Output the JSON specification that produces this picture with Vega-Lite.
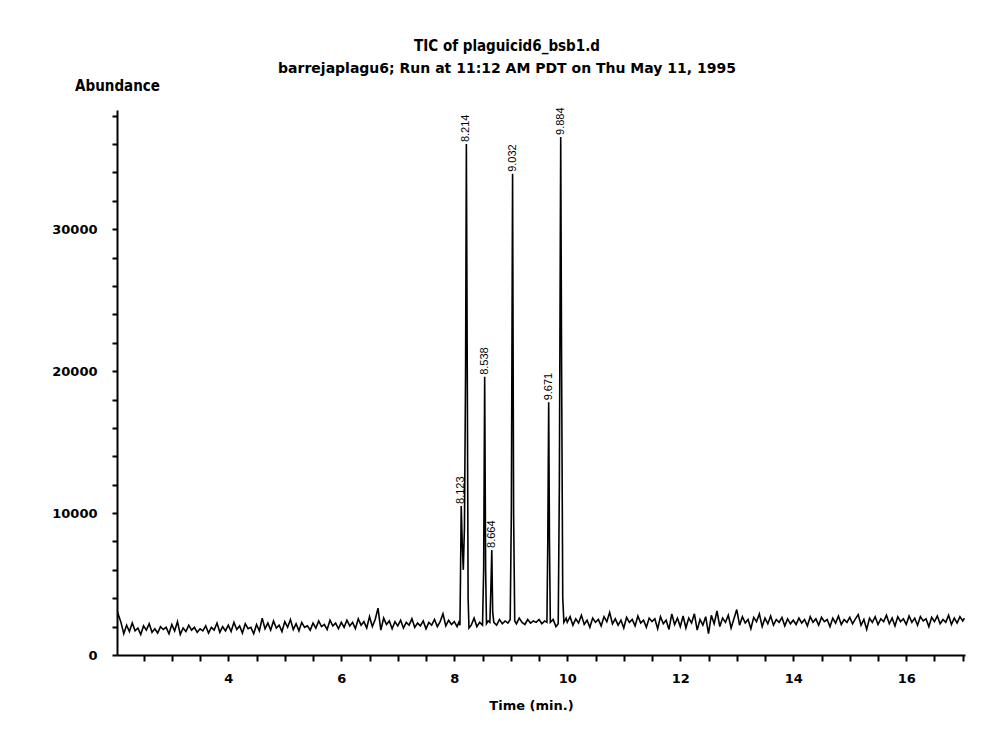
{
"$schema":"https://vega.github.io/schema/vega-lite/v6.json",
"width":848,"height":545,
"autosize":{"type":"none"},
"padding":{"left":117,"top":110,"right":16,"bottom":84},
"background":"white",
"title":{"text":"TIC of plaguicid6_bsb1.d","subtitle":"barrejaplagu6; Run at 11:12 AM PDT on Thu May 11, 1995","anchor":"middle","dx":-34,"offset":2,"font":"Liberation Sans Narrow, DejaVu Sans Condensed, Liberation Sans","fontSize":15,"fontWeight":"bold","color":"black","subtitleFont":"DejaVu Sans","subtitleFontSize":14,"subtitleFontWeight":"bold","subtitleColor":"black","subtitlePadding":8},
"config":{"view":{"stroke":null},"axis":{"labelOverlap":false,"labelFlush":false}},
"datasets":{
"trace":[
{"t":2.03,"a":2500},{"t":2.05,"a":2900},{"t":2.1,"a":2300},{"t":2.15,"a":1500},{"t":2.2,"a":2100},{"t":2.25,"a":1650},{"t":2.3,"a":2250},{"t":2.35,"a":1700},{"t":2.4,"a":1900},{"t":2.45,"a":1450},{"t":2.5,"a":2050},{"t":2.55,"a":1750},{"t":2.6,"a":2200},{"t":2.65,"a":1600},{"t":2.7,"a":1850},{"t":2.75,"a":1550},{"t":2.8,"a":2000},{"t":2.85,"a":1800},{"t":2.9,"a":1950},{"t":2.95,"a":1500},{"t":3.0,"a":2150},{"t":3.05,"a":1700},{"t":3.1,"a":2350},{"t":3.15,"a":1450},{"t":3.2,"a":1900},{"t":3.25,"a":1650},{"t":3.3,"a":2100},{"t":3.35,"a":1750},{"t":3.4,"a":1950},{"t":3.45,"a":1600},{"t":3.5,"a":1850},{"t":3.55,"a":1700},{"t":3.6,"a":2050},{"t":3.65,"a":1550},{"t":3.7,"a":1950},{"t":3.75,"a":1750},{"t":3.8,"a":2250},{"t":3.85,"a":1600},{"t":3.9,"a":2000},{"t":3.95,"a":1700},{"t":4.0,"a":2100},
{"t":4.05,"a":1650},{"t":4.1,"a":2300},{"t":4.15,"a":1800},{"t":4.2,"a":2050},{"t":4.25,"a":1550},{"t":4.3,"a":2200},{"t":4.35,"a":1850},{"t":4.4,"a":1950},{"t":4.45,"a":1500},{"t":4.5,"a":2150},{"t":4.55,"a":1700},{"t":4.6,"a":2600},{"t":4.65,"a":1850},{"t":4.7,"a":2250},{"t":4.75,"a":1750},{"t":4.8,"a":2400},{"t":4.85,"a":1900},{"t":4.9,"a":2100},{"t":4.95,"a":1650},{"t":5.0,"a":2350},{"t":5.05,"a":1950},{"t":5.1,"a":2500},{"t":5.15,"a":1800},{"t":5.2,"a":2200},{"t":5.25,"a":1700},{"t":5.3,"a":2300},{"t":5.35,"a":1950},{"t":5.4,"a":2050},{"t":5.45,"a":1750},{"t":5.5,"a":2250},{"t":5.55,"a":1900},{"t":5.6,"a":2400},{"t":5.65,"a":2000},{"t":5.7,"a":2150},{"t":5.75,"a":1800},{"t":5.8,"a":2450},{"t":5.85,"a":2050},{"t":5.9,"a":2250},{"t":5.95,"a":1850},{"t":6.0,"a":2300},
{"t":6.05,"a":1950},{"t":6.1,"a":2450},{"t":6.15,"a":2050},{"t":6.2,"a":2300},{"t":6.25,"a":1850},{"t":6.3,"a":2550},{"t":6.35,"a":2100},{"t":6.4,"a":2350},{"t":6.45,"a":1900},{"t":6.5,"a":2700},{"t":6.55,"a":2000},{"t":6.6,"a":2500},{"t":6.65,"a":3300},{"t":6.7,"a":1750},{"t":6.75,"a":2600},{"t":6.8,"a":2150},{"t":6.85,"a":2400},{"t":6.9,"a":1850},{"t":6.95,"a":2350},{"t":7.0,"a":2050},{"t":7.05,"a":2450},{"t":7.1,"a":1900},{"t":7.15,"a":2300},{"t":7.2,"a":2100},{"t":7.25,"a":2550},{"t":7.3,"a":1950},{"t":7.35,"a":2250},{"t":7.4,"a":2050},{"t":7.45,"a":2400},{"t":7.5,"a":1850},{"t":7.55,"a":2300},{"t":7.6,"a":2100},{"t":7.65,"a":2500},{"t":7.7,"a":2000},{"t":7.75,"a":2350},{"t":7.8,"a":2900},{"t":7.85,"a":2050},{"t":7.9,"a":2450},{"t":7.95,"a":2150},{"t":8.0,"a":2350},{"t":8.05,"a":2000},
{"t":8.08,"a":2300},{"t":8.1,"a":2100},{"t":8.11,"a":5500},{"t":8.123,"a":10500},{"t":8.14,"a":8000},{"t":8.16,"a":6000},{"t":8.18,"a":9000},{"t":8.2,"a":20000},{"t":8.214,"a":36000},{"t":8.23,"a":20000},{"t":8.245,"a":4000},{"t":8.26,"a":1900},{"t":8.3,"a":2100},{"t":8.35,"a":2600},{"t":8.4,"a":2000},{"t":8.45,"a":2300},{"t":8.5,"a":2100},{"t":8.52,"a":6000},{"t":8.538,"a":19600},{"t":8.555,"a":6000},{"t":8.57,"a":2200},{"t":8.6,"a":2400},{"t":8.63,"a":2300},{"t":8.65,"a":5000},{"t":8.664,"a":7400},{"t":8.68,"a":3000},{"t":8.7,"a":2300},{"t":8.75,"a":2100},{"t":8.8,"a":2500},{"t":8.85,"a":2200},{"t":8.9,"a":2400},{"t":8.95,"a":2250},{"t":8.99,"a":2500},{"t":9.01,"a":10000},{"t":9.032,"a":33900},{"t":9.05,"a":10000},{"t":9.07,"a":2400},{"t":9.1,"a":2200},{"t":9.15,"a":2600},{"t":9.2,"a":2300},{"t":9.25,"a":2150},{"t":9.3,"a":2500},{"t":9.35,"a":2250},{"t":9.4,"a":2400},{"t":9.45,"a":2300},{"t":9.5,"a":2500},{"t":9.55,"a":2200},{"t":9.6,"a":2400},{"t":9.64,"a":2300},{"t":9.655,"a":8000},{"t":9.671,"a":17800},{"t":9.685,"a":8000},{"t":9.7,"a":2300},{"t":9.75,"a":2500},{"t":9.8,"a":2000},{"t":9.84,"a":2200},{"t":9.86,"a":12000},{"t":9.884,"a":36500},{"t":9.9,"a":20000},{"t":9.92,"a":4000},{"t":9.94,"a":2300},{"t":9.98,"a":2600},{"t":10.0,"a":2300},
{"t":10.05,"a":2700},{"t":10.1,"a":2100},{"t":10.15,"a":2550},{"t":10.2,"a":2250},{"t":10.25,"a":2800},{"t":10.3,"a":2150},{"t":10.35,"a":2450},{"t":10.4,"a":1950},{"t":10.45,"a":2600},{"t":10.5,"a":2300},{"t":10.55,"a":2500},{"t":10.6,"a":2050},{"t":10.65,"a":2700},{"t":10.7,"a":2350},{"t":10.75,"a":3000},{"t":10.8,"a":2200},{"t":10.85,"a":2550},{"t":10.9,"a":2100},{"t":10.95,"a":2450},{"t":11.0,"a":1900},{"t":11.05,"a":2650},{"t":11.1,"a":2300},{"t":11.15,"a":2500},{"t":11.2,"a":2050},{"t":11.25,"a":2750},{"t":11.3,"a":2250},{"t":11.35,"a":2450},{"t":11.4,"a":1950},{"t":11.45,"a":2600},{"t":11.5,"a":2350},{"t":11.55,"a":2550},{"t":11.6,"a":1850},{"t":11.65,"a":2700},{"t":11.7,"a":2200},{"t":11.75,"a":2450},{"t":11.8,"a":1800},{"t":11.85,"a":2900},{"t":11.9,"a":2150},{"t":11.95,"a":2600},{"t":12.0,"a":2000},
{"t":12.05,"a":2750},{"t":12.1,"a":1900},{"t":12.15,"a":2600},{"t":12.2,"a":2250},{"t":12.25,"a":2900},{"t":12.3,"a":1750},{"t":12.35,"a":2500},{"t":12.4,"a":2100},{"t":12.45,"a":2700},{"t":12.5,"a":1500},{"t":12.55,"a":2800},{"t":12.6,"a":2200},{"t":12.65,"a":3100},{"t":12.7,"a":2000},{"t":12.75,"a":2600},{"t":12.8,"a":2300},{"t":12.85,"a":2800},{"t":12.9,"a":1900},{"t":12.95,"a":2550},{"t":13.0,"a":3200},{"t":13.05,"a":2100},{"t":13.1,"a":2700},{"t":13.15,"a":2250},{"t":13.2,"a":2500},{"t":13.25,"a":1850},{"t":13.3,"a":2650},{"t":13.35,"a":2350},{"t":13.4,"a":2900},{"t":13.45,"a":2000},{"t":13.5,"a":2600},{"t":13.55,"a":2200},{"t":13.6,"a":2750},{"t":13.65,"a":2100},{"t":13.7,"a":2500},{"t":13.75,"a":2300},{"t":13.8,"a":2650},{"t":13.85,"a":2050},{"t":13.9,"a":2550},{"t":13.95,"a":2200},{"t":14.0,"a":2450},
{"t":14.05,"a":2150},{"t":14.1,"a":2600},{"t":14.15,"a":2250},{"t":14.2,"a":2500},{"t":14.25,"a":2050},{"t":14.3,"a":2700},{"t":14.35,"a":2300},{"t":14.4,"a":2550},{"t":14.45,"a":2100},{"t":14.5,"a":2650},{"t":14.55,"a":2350},{"t":14.6,"a":2500},{"t":14.65,"a":2000},{"t":14.7,"a":2600},{"t":14.75,"a":2250},{"t":14.8,"a":2750},{"t":14.85,"a":2150},{"t":14.9,"a":2500},{"t":14.95,"a":2300},{"t":15.0,"a":2650},{"t":15.05,"a":2200},{"t":15.1,"a":2550},{"t":15.15,"a":2850},{"t":15.2,"a":2100},{"t":15.25,"a":2500},{"t":15.3,"a":1800},{"t":15.35,"a":2600},{"t":15.4,"a":2300},{"t":15.45,"a":2700},{"t":15.5,"a":2150},{"t":15.55,"a":2550},{"t":15.6,"a":2350},{"t":15.65,"a":2800},{"t":15.7,"a":2200},{"t":15.75,"a":2600},{"t":15.8,"a":2050},{"t":15.85,"a":2700},{"t":15.9,"a":2350},{"t":15.95,"a":2550},{"t":16.0,"a":2150},{"t":16.05,"a":2750},{"t":16.1,"a":2300},{"t":16.15,"a":2600},{"t":16.2,"a":2100},{"t":16.25,"a":2700},{"t":16.3,"a":2400},{"t":16.35,"a":2550},{"t":16.4,"a":2000},{"t":16.45,"a":2650},{"t":16.5,"a":2350},{"t":16.55,"a":2750},{"t":16.6,"a":2200},{"t":16.65,"a":2500},{"t":16.7,"a":2300},{"t":16.75,"a":2800},{"t":16.8,"a":2150},{"t":16.85,"a":2600},{"t":16.9,"a":2250},{"t":16.95,"a":2700},{"t":17.0,"a":2400},{"t":17.03,"a":2600}
],
"peaks":[
{"t":8.123,"a":10500,"label":"8.123"},{"t":8.214,"a":36000,"label":"8.214"},{"t":8.538,"a":19600,"label":"8.538"},{"t":8.664,"a":7400,"label":"8.664"},{"t":9.032,"a":33900,"label":"9.032"},{"t":9.671,"a":17800,"label":"9.671"},{"t":9.884,"a":36500,"label":"9.884"}
]},
"encoding":{
  "x":{"field":"t","type":"quantitative","scale":{"domain":[2.03,17.04],"nice":false,"zero":false},
   "axis":{"title":"Time (min.)","titleX":414,"values":[2.5,3,3.5,4,4.5,5,5.5,6,6.5,7,7.5,8,8.5,9,9.5,10,10.5,11,11.5,12,12.5,13,13.5,14,14.5,15,15.5,16,16.5,17],"labelExpr":"datum.value % 2 === 0 ? format(datum.value,'d') : ''","grid":false,"domainColor":"black","domainWidth":2,"tickColor":"black","tickWidth":2,"tickSize":6,"labelFont":"DejaVu Sans","labelFontWeight":"bold","labelFontSize":13,"labelColor":"black","labelPadding":11,"labelFlush":false,"labelOverlap":false,"labelBound":false,"titleFont":"DejaVu Sans","titleFontSize":13,"titleFontWeight":"bold","titleColor":"black","titlePadding":14}},
  "y":{"field":"a","type":"quantitative","scale":{"domain":[0,38400],"nice":false},
   "axis":{"title":"Abundance","titleAngle":0,"titleAlign":"center","titleBaseline":"middle","titleX":0,"titleY":-25,"titleFont":"Liberation Sans Narrow, DejaVu Sans Condensed, Liberation Sans","titleFontSize":15,"titleFontWeight":"bold","titleColor":"black","values":[0,2000,4000,6000,8000,10000,12000,14000,16000,18000,20000,22000,24000,26000,28000,30000,32000,34000,36000,38000],"labelExpr":"datum.value % 10000 === 0 ? format(datum.value,'d') : ''","grid":false,"domainColor":"black","domainWidth":2,"tickColor":"black","tickWidth":2,"tickSize":5,"labelFont":"DejaVu Sans","labelFontWeight":"bold","labelFontSize":13,"labelColor":"black","labelPadding":15,"labelFlush":false,"labelOverlap":false,"labelBound":false}}
},
"layer":[
{"data":{"name":"trace"},
 "mark":{"type":"line","color":"black","strokeWidth":1.6,"clip":true}},
{"data":{"name":"peaks"},
 "mark":{"type":"text","angle":270,"align":"left","baseline":"middle","dx":2,"font":"Liberation Sans","fontSize":11,"color":"black"},
 "encoding":{"text":{"field":"label"}}}
]
}
